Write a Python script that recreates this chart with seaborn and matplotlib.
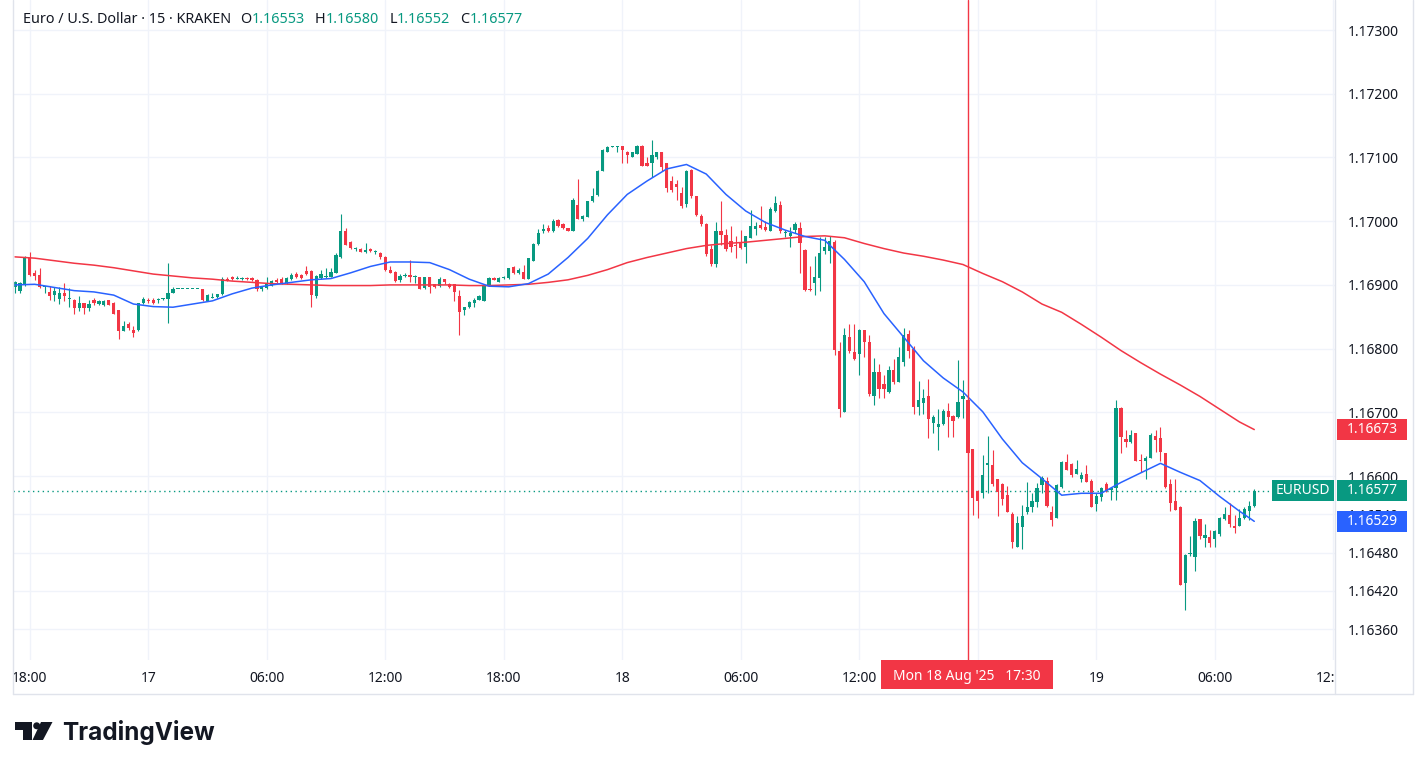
# %% packages
import numpy as np
import pandas as pd
import seaborn as sns
import matplotlib.pyplot as plt
import matplotlib.dates as mdates
from matplotlib.patches import Rectangle, Polygon, Ellipse
from matplotlib.lines import Line2D
from matplotlib.text import Annotation

# %% data: EUR/USD 15 min candles (KRAKEN), first candle 16 Aug 2025 17:15
start_time = '2025-08-16 17:15'

opens = [1.16897, 1.16891, 1.16900, 1.16942, 1.16918, 1.16915, 1.16896, 1.16889, 1.16884, 1.16878,
         1.16888, 1.16878, 1.16877, 1.16863, 1.16871, 1.16864, 1.16876, 1.16870, 1.16868, 1.16876,
         1.16872, 1.16860, 1.16828, 1.16839, 1.16830, 1.16829, 1.16871, 1.16877, 1.16876, 1.16876,
         1.16878, 1.16878, 1.16888, 1.16893, 1.16893, 1.16893, 1.16893, 1.16893, 1.16893, 1.16875,
         1.16880, 1.16881, 1.16885, 1.16910, 1.16912, 1.16909, 1.16909, 1.16910, 1.16911, 1.16908,
         1.16894, 1.16895, 1.16899, 1.16908, 1.16909, 1.16903, 1.16909, 1.16917, 1.16916, 1.16922,
         1.16922, 1.16882, 1.16911, 1.16912, 1.16913, 1.16919, 1.16944, 1.16985, 1.16968, 1.16956,
         1.16957, 1.16952, 1.16956, 1.16951, 1.16950, 1.16944, 1.16924, 1.16921, 1.16907, 1.16914,
         1.16915, 1.16912, 1.16912, 1.16895, 1.16912, 1.16901, 1.16898, 1.16909, 1.16902, 1.16901,
         1.16883, 1.16861, 1.16865, 1.16871, 1.16877, 1.16875, 1.16900, 1.16911, 1.16905, 1.16911,
         1.16911, 1.16928, 1.16918, 1.16921, 1.16910, 1.16938, 1.16964, 1.16984, 1.16989, 1.16984,
         1.17002, 1.16996, 1.16990, 1.16985, 1.17025, 1.17003, 1.17007, 1.17031, 1.17041, 1.17079,
         1.17109, 1.17116, 1.17117, 1.17118, 1.17109, 1.17101, 1.17106, 1.17118, 1.17092, 1.17092,
         1.17101, 1.17109, 1.17091, 1.17063, 1.17058, 1.17045, 1.17027, 1.17081, 1.17039, 1.17008,
         1.16996, 1.16957, 1.16933, 1.16984, 1.16978, 1.16969, 1.16963, 1.16965, 1.16959, 1.16974,
         1.16987, 1.16994, 1.16991, 1.16985, 1.17016, 1.17025, 1.16981, 1.16977, 1.16986, 1.16989,
         1.16955, 1.16893, 1.16903, 1.16911, 1.16954, 1.16954, 1.16968, 1.16796, 1.16701, 1.16819,
         1.16794, 1.16792, 1.16829, 1.16810, 1.16726, 1.16763, 1.16744, 1.16732, 1.16766, 1.16748,
         1.16779, 1.16823, 1.16800, 1.16709, 1.16715, 1.16726, 1.16683, 1.16677, 1.16681, 1.16702,
         1.16695, 1.16692, 1.16721, 1.16719, 1.16642, 1.16577, 1.16574, 1.16617, 1.16617, 1.16595,
         1.16588, 1.16570, 1.16541, 1.16489, 1.16520, 1.16543, 1.16551, 1.16560, 1.16586, 1.16593,
         1.16543, 1.16535, 1.16583, 1.16622, 1.16619, 1.16604, 1.16595, 1.16604, 1.16593, 1.16556,
         1.16567, 1.16587, 1.16578, 1.16581, 1.16707, 1.16658, 1.16653, 1.16667, 1.16625, 1.16624,
         1.16629, 1.16663, 1.16659, 1.16637, 1.16587, 1.16561, 1.16552, 1.16432, 1.16477, 1.16473,
         1.16532, 1.16503, 1.16505, 1.16501, 1.16509, 1.16533, 1.16539, 1.16522, 1.16522, 1.16534,
         1.16546, 1.16553]

highs = [1.16906, 1.16905, 1.16946, 1.16951, 1.16924, 1.16926, 1.16899, 1.16899, 1.16897, 1.16897,
         1.16903, 1.16895, 1.16878, 1.16882, 1.16872, 1.16876, 1.16879, 1.16877, 1.16876, 1.16877,
         1.16873, 1.16861, 1.16843, 1.16842, 1.16835, 1.16872, 1.16881, 1.16879, 1.16880, 1.16880,
         1.16880, 1.16935, 1.16897, 1.16893, 1.16893, 1.16893, 1.16893, 1.16893, 1.16894, 1.16885,
         1.16888, 1.16886, 1.16912, 1.16912, 1.16914, 1.16914, 1.16913, 1.16913, 1.16913, 1.16909,
         1.16898, 1.16912, 1.16908, 1.16911, 1.16913, 1.16912, 1.16918, 1.16921, 1.16917, 1.16929,
         1.16923, 1.16915, 1.16923, 1.16926, 1.16927, 1.16950, 1.17012, 1.16989, 1.16969, 1.16960,
         1.16958, 1.16966, 1.16958, 1.16955, 1.16952, 1.16945, 1.16929, 1.16922, 1.16917, 1.16918,
         1.16939, 1.16916, 1.16913, 1.16913, 1.16913, 1.16902, 1.16912, 1.16910, 1.16903, 1.16902,
         1.16892, 1.16866, 1.16874, 1.16879, 1.16884, 1.16901, 1.16913, 1.16913, 1.16913, 1.16914,
         1.16927, 1.16929, 1.16926, 1.16931, 1.16943, 1.16965, 1.16988, 1.16995, 1.16994, 1.17003,
         1.17003, 1.16997, 1.16990, 1.17036, 1.17066, 1.17010, 1.17032, 1.17052, 1.17080, 1.17113,
         1.17118, 1.17118, 1.17118, 1.17118, 1.17110, 1.17109, 1.17119, 1.17119, 1.17100, 1.17127,
         1.17109, 1.17109, 1.17092, 1.17071, 1.17065, 1.17054, 1.17080, 1.17082, 1.17040, 1.17011,
         1.16997, 1.16963, 1.16999, 1.17031, 1.16988, 1.16992, 1.16977, 1.16986, 1.16977, 1.17018,
         1.16998, 1.17024, 1.17001, 1.17022, 1.17039, 1.17031, 1.16986, 1.16991, 1.16998, 1.16999,
         1.16956, 1.16929, 1.16945, 1.16975, 1.16975, 1.16977, 1.16970, 1.16811, 1.16833, 1.16839,
         1.16839, 1.16831, 1.16830, 1.16821, 1.16785, 1.16776, 1.16759, 1.16772, 1.16783, 1.16803,
         1.16832, 1.16830, 1.16804, 1.16749, 1.16736, 1.16753, 1.16696, 1.16705, 1.16706, 1.16714,
         1.16696, 1.16782, 1.16751, 1.16720, 1.16643, 1.16578, 1.16633, 1.16663, 1.16641, 1.16596,
         1.16589, 1.16585, 1.16543, 1.16537, 1.16555, 1.16591, 1.16573, 1.16589, 1.16600, 1.16598,
         1.16553, 1.16587, 1.16623, 1.16635, 1.16620, 1.16625, 1.16607, 1.16617, 1.16595, 1.16573,
         1.16583, 1.16590, 1.16582, 1.16719, 1.16708, 1.16672, 1.16672, 1.16668, 1.16635, 1.16631,
         1.16668, 1.16672, 1.16677, 1.16637, 1.16596, 1.16595, 1.16553, 1.16477, 1.16506, 1.16535,
         1.16532, 1.16525, 1.16516, 1.16516, 1.16536, 1.16551, 1.16557, 1.16539, 1.16549, 1.16551,
         1.16561, 1.16580]

lows = [1.16888, 1.16888, 1.16899, 1.16914, 1.16908, 1.16895, 1.16888, 1.16876, 1.16875, 1.16870,
        1.16875, 1.16866, 1.16855, 1.16859, 1.16855, 1.16859, 1.16868, 1.16868, 1.16867, 1.16868,
        1.16854, 1.16815, 1.16827, 1.16830, 1.16819, 1.16828, 1.16870, 1.16871, 1.16870, 1.16871,
        1.16877, 1.16841, 1.16887, 1.16893, 1.16893, 1.16893, 1.16893, 1.16893, 1.16874, 1.16875,
        1.16880, 1.16880, 1.16884, 1.16906, 1.16908, 1.16909, 1.16908, 1.16908, 1.16906, 1.16891,
        1.16890, 1.16893, 1.16898, 1.16903, 1.16902, 1.16902, 1.16908, 1.16911, 1.16909, 1.16916,
        1.16866, 1.16880, 1.16910, 1.16911, 1.16912, 1.16918, 1.16942, 1.16962, 1.16957, 1.16954,
        1.16951, 1.16950, 1.16951, 1.16948, 1.16940, 1.16922, 1.16918, 1.16905, 1.16905, 1.16912,
        1.16905, 1.16903, 1.16893, 1.16894, 1.16888, 1.16895, 1.16897, 1.16902, 1.16895, 1.16874,
        1.16821, 1.16853, 1.16864, 1.16865, 1.16876, 1.16874, 1.16898, 1.16907, 1.16904, 1.16910,
        1.16910, 1.16917, 1.16917, 1.16909, 1.16909, 1.16937, 1.16963, 1.16982, 1.16983, 1.16983,
        1.16991, 1.16987, 1.16984, 1.16984, 1.17003, 1.17001, 1.17006, 1.17030, 1.17040, 1.17078,
        1.17108, 1.17116, 1.17108, 1.17092, 1.17092, 1.17100, 1.17105, 1.17086, 1.17086, 1.17070,
        1.17097, 1.17078, 1.17046, 1.17046, 1.17033, 1.17020, 1.17023, 1.17037, 1.17008, 1.16992,
        1.16945, 1.16929, 1.16928, 1.16963, 1.16954, 1.16952, 1.16943, 1.16957, 1.16934, 1.16973,
        1.16978, 1.16988, 1.16985, 1.16984, 1.17015, 1.16981, 1.16975, 1.16960, 1.16981, 1.16919,
        1.16891, 1.16891, 1.16884, 1.16891, 1.16948, 1.16935, 1.16790, 1.16692, 1.16700, 1.16793,
        1.16782, 1.16759, 1.16787, 1.16725, 1.16712, 1.16722, 1.16722, 1.16731, 1.16745, 1.16747,
        1.16772, 1.16786, 1.16697, 1.16696, 1.16697, 1.16660, 1.16668, 1.16641, 1.16680, 1.16662,
        1.16662, 1.16691, 1.16691, 1.16636, 1.16539, 1.16535, 1.16565, 1.16574, 1.16584, 1.16538,
        1.16555, 1.16543, 1.16487, 1.16488, 1.16485, 1.16541, 1.16543, 1.16552, 1.16574, 1.16552,
        1.16522, 1.16534, 1.16582, 1.16609, 1.16598, 1.16603, 1.16591, 1.16590, 1.16551, 1.16546,
        1.16561, 1.16575, 1.16562, 1.16562, 1.16637, 1.16645, 1.16652, 1.16623, 1.16607, 1.16595,
        1.16628, 1.16638, 1.16624, 1.16582, 1.16546, 1.16547, 1.16429, 1.16390, 1.16475, 1.16451,
        1.16502, 1.16489, 1.16489, 1.16489, 1.16506, 1.16531, 1.16520, 1.16510, 1.16522, 1.16532,
        1.16531, 1.16552]

closes = [1.16905, 1.16903, 1.16944, 1.16915, 1.16914, 1.16896, 1.16897, 1.16883, 1.16891, 1.16887,
          1.16883, 1.16879, 1.16864, 1.16872, 1.16863, 1.16870, 1.16872, 1.16875, 1.16875, 1.16869,
          1.16855, 1.16828, 1.16835, 1.16833, 1.16825, 1.16871, 1.16878, 1.16875, 1.16872, 1.16877,
          1.16879, 1.16887, 1.16894, 1.16893, 1.16893, 1.16893, 1.16893, 1.16893, 1.16876, 1.16884,
          1.16881, 1.16885, 1.16910, 1.16907, 1.16909, 1.16910, 1.16911, 1.16909, 1.16908, 1.16893,
          1.16896, 1.16903, 1.16906, 1.16905, 1.16903, 1.16911, 1.16915, 1.16912, 1.16911, 1.16917,
          1.16884, 1.16914, 1.16917, 1.16914, 1.16920, 1.16947, 1.16985, 1.16963, 1.16958, 1.16958,
          1.16952, 1.16955, 1.16953, 1.16952, 1.16944, 1.16924, 1.16919, 1.16906, 1.16914, 1.16915,
          1.16912, 1.16913, 1.16894, 1.16912, 1.16896, 1.16896, 1.16910, 1.16905, 1.16896, 1.16889,
          1.16858, 1.16865, 1.16873, 1.16876, 1.16882, 1.16900, 1.16911, 1.16908, 1.16911, 1.16912,
          1.16926, 1.16918, 1.16923, 1.16910, 1.16942, 1.16964, 1.16981, 1.16988, 1.16984, 1.17001,
          1.16992, 1.16989, 1.16985, 1.17034, 1.17004, 1.17008, 1.17031, 1.17040, 1.17079, 1.17112,
          1.17117, 1.17117, 1.17118, 1.17111, 1.17104, 1.17108, 1.17118, 1.17087, 1.17087, 1.17104,
          1.17109, 1.17085, 1.17052, 1.17049, 1.17054, 1.17024, 1.17079, 1.17039, 1.17009, 1.16996,
          1.16948, 1.16933, 1.16984, 1.16978, 1.16957, 1.16960, 1.16961, 1.16958, 1.16976, 1.16992,
          1.16992, 1.16989, 1.16986, 1.17019, 1.17029, 1.16985, 1.16983, 1.16981, 1.16996, 1.16966,
          1.16892, 1.16892, 1.16913, 1.16950, 1.16960, 1.16969, 1.16798, 1.16705, 1.16821, 1.16796,
          1.16784, 1.16830, 1.16811, 1.16729, 1.16764, 1.16737, 1.16737, 1.16766, 1.16748, 1.16787,
          1.16821, 1.16797, 1.16709, 1.16720, 1.16723, 1.16690, 1.16692, 1.16682, 1.16702, 1.16693,
          1.16687, 1.16717, 1.16726, 1.16637, 1.16566, 1.16561, 1.16602, 1.16620, 1.16587, 1.16575,
          1.16564, 1.16543, 1.16496, 1.16526, 1.16537, 1.16551, 1.16561, 1.16581, 1.16597, 1.16553,
          1.16531, 1.16586, 1.16622, 1.16610, 1.16602, 1.16611, 1.16602, 1.16591, 1.16552, 1.16569,
          1.16582, 1.16577, 1.16581, 1.16707, 1.16662, 1.16653, 1.16664, 1.16624, 1.16624, 1.16629,
          1.16664, 1.16657, 1.16638, 1.16583, 1.16558, 1.16547, 1.16429, 1.16476, 1.16479, 1.16529,
          1.16506, 1.16507, 1.16495, 1.16514, 1.16535, 1.16541, 1.16525, 1.16518, 1.16535, 1.16549,
          1.16553, 1.16577]

# moving averages (every 4th candle, plus the last one)
ma_fast = [1.16900, 1.16901, 1.16896, 1.16891, 1.16889, 1.16884, 1.16870, 1.16866, 1.16865, 1.16870,
           1.16875, 1.16886, 1.16895, 1.16900, 1.16904, 1.16908, 1.16910, 1.16919, 1.16929, 1.16936,
           1.16936, 1.16935, 1.16924, 1.16909, 1.16898, 1.16897, 1.16902, 1.16917, 1.16943, 1.16973,
           1.17010, 1.17042, 1.17063, 1.17082, 1.17089, 1.17074, 1.17042, 1.17016, 1.16998, 1.16986,
           1.16976, 1.16970, 1.16940, 1.16905, 1.16855, 1.16818, 1.16781, 1.16754, 1.16732, 1.16701,
           1.16658, 1.16621, 1.16596, 1.16570, 1.16573, 1.16573, 1.16590, 1.16605, 1.16620, 1.16606,
           1.16593, 1.16568, 1.16545, 1.16529]
ma_slow = [1.16944, 1.16942, 1.16938, 1.16934, 1.16931, 1.16927, 1.16922, 1.16917, 1.16914, 1.16911,
           1.16909, 1.16906, 1.16904, 1.16902, 1.16901, 1.16900, 1.16899, 1.16899, 1.16899, 1.16900,
           1.16900, 1.16900, 1.16900, 1.16899, 1.16899, 1.16900, 1.16901, 1.16904, 1.16908, 1.16915,
           1.16924, 1.16935, 1.16943, 1.16950, 1.16957, 1.16962, 1.16965, 1.16967, 1.16970, 1.16973,
           1.16976, 1.16977, 1.16974, 1.16965, 1.16957, 1.16950, 1.16945, 1.16939, 1.16932, 1.16918,
           1.16905, 1.16889, 1.16870, 1.16857, 1.16838, 1.16818, 1.16797, 1.16778, 1.16760, 1.16743,
           1.16725, 1.16705, 1.16685, 1.16673]

price_ticks = [1.17300, 1.17200, 1.17100, 1.17000, 1.16900, 1.16800, 1.16700, 1.16600,
               1.16540, 1.16480, 1.16420, 1.16360]
time_ticks = pd.date_range('2025-08-16 18:00', '2025-08-19 12:00', freq='6h')
# the 18:00 label of the 18th sits under the crosshair date tag, so it is left blank
time_labels = ['18:00', '17', '06:00', '12:00', '18:00', '18', '06:00', '12:00',
               '', '19', '06:00', '12:00']
cursor_time = pd.Timestamp('2025-08-18 17:30')
cursor_label = "Mon 18 Aug '25   17:30"
symbol = 'EURUSD'

# %% frames
df = pd.DataFrame({'time': pd.date_range(start_time, periods=len(closes), freq='15min'),
                   'open': opens, 'high': highs, 'low': lows, 'close': closes})
df['x'] = mdates.date2num(df['time'])
df['up'] = df['close'] >= df['open']

ma_idx = list(range(0, len(df), 4)) + [len(df) - 1]
ma = pd.DataFrame({'x': df['x'].iloc[ma_idx].values, 'fast': ma_fast, 'slow': ma_slow})

last = df.iloc[-1]

# %% style
GREEN, RED, BLUE = '#089981', '#F23645', '#2962FF'
TXT, GRID, BORDER = '#131722', '#F0F3FA', '#E0E3EB'
W, H = 1426, 770

sns.set_theme(style='white')
plt.rcParams['font.family'] = ['Noto Sans', 'DejaVu Sans']


def fx(px):
    return px / W


def fy(py):
    return 1 - py / H


fig = plt.figure(figsize=(W / 100, H / 100), dpi=100)
fig.patch.set_facecolor('white')

ax = fig.add_axes([fx(13), fy(660), fx(1335) - fx(13), fy(0) - fy(660)])
dt = 1 / 96
x0 = df['x'].iloc[0]
xlim = (x0 - 0.4 * dt, x0 + 267.35 * dt)
ylim = (1.163114, 1.173471)


def price_to_px(p):
    return 660 * (ylim[1] - p) / (ylim[1] - ylim[0])


# %% candles
colors = np.where(df['up'], GREEN, RED)
body_lo = np.minimum(df['open'], df['close'])
body_h = np.maximum(np.abs(df['close'] - df['open']), 0.000016)
ax.vlines(df['x'], df['low'], df['high'], colors=colors, lw=0.8, zorder=2)
ax.bar(df['x'], body_h, bottom=body_lo, width=dt * 0.66, color=colors, lw=0, zorder=2)

# moving averages
sns.lineplot(data=ma, x='x', y='slow', color=RED, lw=1.1, ax=ax, zorder=3)
sns.lineplot(data=ma, x='x', y='fast', color=BLUE, lw=1.1, ax=ax, zorder=3)

ax.axhline(last['close'], color=GREEN, lw=1, ls=(0, (1, 2.5)), zorder=1)
ax.axvline(mdates.date2num(cursor_time), color=RED, lw=1, zorder=4)

ax.set_xlim(xlim)
ax.set_ylim(ylim)
ax.set_xticks(mdates.date2num(time_ticks))
ax.set_yticks(price_ticks)
ax.set_yticklabels([f'{p:.5f}' for p in price_ticks])
ax.yaxis.tick_right()
ax.tick_params(axis='x', length=0, labelbottom=False)
ax.tick_params(axis='y', length=0, pad=9, labelsize=10, labelcolor=TXT)
ax.grid(True, color=GRID, lw=1)
ax.set_axisbelow(True)
for s in ax.spines.values():
    s.set_visible(False)
ax.set_xlabel('')
ax.set_ylabel('')

# %% time axis
axt = fig.add_axes([fx(13), fy(694), fx(1335) - fx(13), fy(660) - fy(694)])
axt.set_xlim(xlim)
axt.set_ylim(0, 1)
axt.axis('off')
for t, lab in zip(time_ticks, time_labels):
    axt.text(mdates.date2num(t), 0.47, lab, ha='center', va='center', fontsize=10, color=TXT,
             fontweight='bold' if lab == '18' else 'normal', clip_on=True)

# borders
for xa, ya, xb, yb in [(12.7, 0, 12.7, 694), (12.7, 694, 1413, 694),
                       (1335, 0, 1335, 694), (1413, 0, 1413, 694)]:
    fig.add_artist(Line2D([fx(xa), fx(xb)], [fy(ya), fy(yb)], color=BORDER, lw=1))


# %% price tags on the right
def tag(xa, xb, yc, text, color):
    fig.add_artist(Rectangle((fx(xa), fy(yc + 10.5)), fx(xb) - fx(xa), fy(yc - 10.5) - fy(yc + 10.5),
                             color=color, lw=0, zorder=5))
    fig.text(fx((xa + xb) / 2), fy(yc), text, ha='center', va='center', color='white',
             fontsize=10, zorder=6)


tag(1337, 1407, price_to_px(ma_slow[-1]), f'{ma_slow[-1]:.5f}', RED)
tag(1337, 1407, price_to_px(last['close']), f"{last['close']:.5f}", GREEN)
tag(1272, 1334, price_to_px(last['close']), symbol, GREEN)
tag(1337, 1407, price_to_px(ma_fast[-1]), f'{ma_fast[-1]:.5f}', BLUE)

# cursor date tag
fig.add_artist(Rectangle((fx(881), fy(689)), fx(1053) - fx(881), fy(660) - fy(689),
                         color=RED, lw=0, zorder=5))
fig.text(fx(967), fy(676), cursor_label, ha='center', va='center', color='white',
         fontsize=10, zorder=6)

# %% header (legend line)
prev = fig.text(fx(23), fy(19.5), 'Euro / U.S. Dollar · 15 · KRAKEN', ha='left', va='center',
                fontsize=10.35, color=TXT)
pieces = [('O', TXT, 6.5), (f"{last['open']:.5f}", GREEN, 0),
          ('H', TXT, 7.5), (f"{last['high']:.5f}", GREEN, 0),
          ('L', TXT, 7.5), (f"{last['low']:.5f}", GREEN, 0),
          ('C', TXT, 7.5), (f"{last['close']:.5f}", GREEN, 0)]
for s, c, gap in pieces:
    a = Annotation(s, xy=(1, 0), xycoords=prev, xytext=(gap, 0), textcoords='offset points',
                   ha='left', va='bottom', fontsize=10.35, color=c)
    fig.add_artist(a)
    prev = a

# %% TradingView logo
fig.add_artist(Polygon([(fx(15), fy(722)), (fx(32), fy(722)), (fx(32), fy(740)),
                        (fx(23), fy(740)), (fx(23), fy(729.5)), (fx(15), fy(729.5))],
                       closed=True, color='#131722', lw=0))
fig.add_artist(Ellipse((fx(36.7), fy(725.8)), 7 / W, 7 / H, color='#131722', lw=0))
fig.add_artist(Polygon([(fx(41), fy(722)), (fx(52.5), fy(722)), (fx(43), fy(740)), (fx(32.5), fy(740))],
                       closed=True, color='#131722', lw=0))
fig.text(fx(62), fy(740), 'TradingView', ha='left', va='baseline', fontsize=17.5,
         fontweight='bold', family=['Inter', 'DejaVu Sans'], color='#131722')

fig.savefig('out.png', dpi=100)
